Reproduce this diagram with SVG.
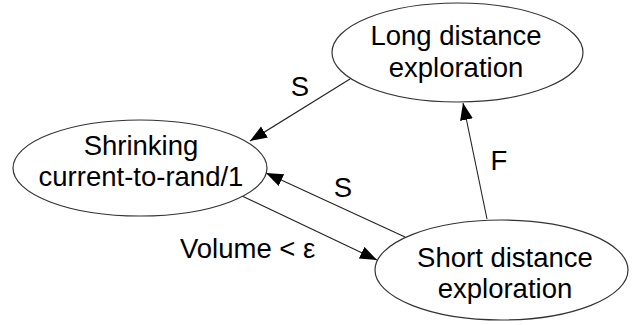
<svg xmlns="http://www.w3.org/2000/svg" width="641" height="325" viewBox="0 0 641 325">
<style>
.node ellipse{fill:#fff;stroke:#333;stroke-width:1.2}
text{font-family:"Liberation Sans",Arial,sans-serif;font-size:27.5px;fill:#000}
.n text{text-anchor:middle}
.edge{stroke:#222;stroke-width:1.1;fill:none;marker-end:url(#arr)}
</style>
<defs>
<marker id="arr" markerUnits="userSpaceOnUse" markerWidth="18" markerHeight="14" refX="17" refY="6.5" orient="auto">
<path d="M0,0 L17,6.5 L0,13 z" fill="#000"/>
</marker>
</defs>
<rect width="641" height="325" fill="#fff"/>
<g id="connectors">
<line class="edge" x1="350" y1="79" x2="250" y2="141"/>
<line class="edge" x1="405" y1="237" x2="266" y2="173"/>
<line class="edge" x1="242" y1="196" x2="377" y2="260"/>
<line class="edge" x1="487" y1="219" x2="463" y2="103"/>
<text x="300" y="96" text-anchor="middle">S</text>
<text x="343" y="197" text-anchor="middle">S</text>
<text x="180" y="258">Volume &lt; ε</text>
<text x="499" y="170" text-anchor="middle">F</text>
</g>
<g id="long" class="node n">
<ellipse cx="457.5" cy="52.5" rx="125.5" ry="49.5"/>
<text x="456" y="45">Long distance</text>
<text x="456" y="77">exploration</text>
</g>
<g id="shrinking" class="node n">
<ellipse cx="140" cy="168" rx="127" ry="48"/>
<text x="141" y="155">Shrinking</text>
<text x="141" y="186">current-to-rand/1</text>
</g>
<g id="short" class="node n">
<ellipse cx="501.5" cy="270" rx="126.5" ry="50"/>
<text x="505" y="267">Short distance</text>
<text x="505" y="298">exploration</text>
</g>
</svg>
